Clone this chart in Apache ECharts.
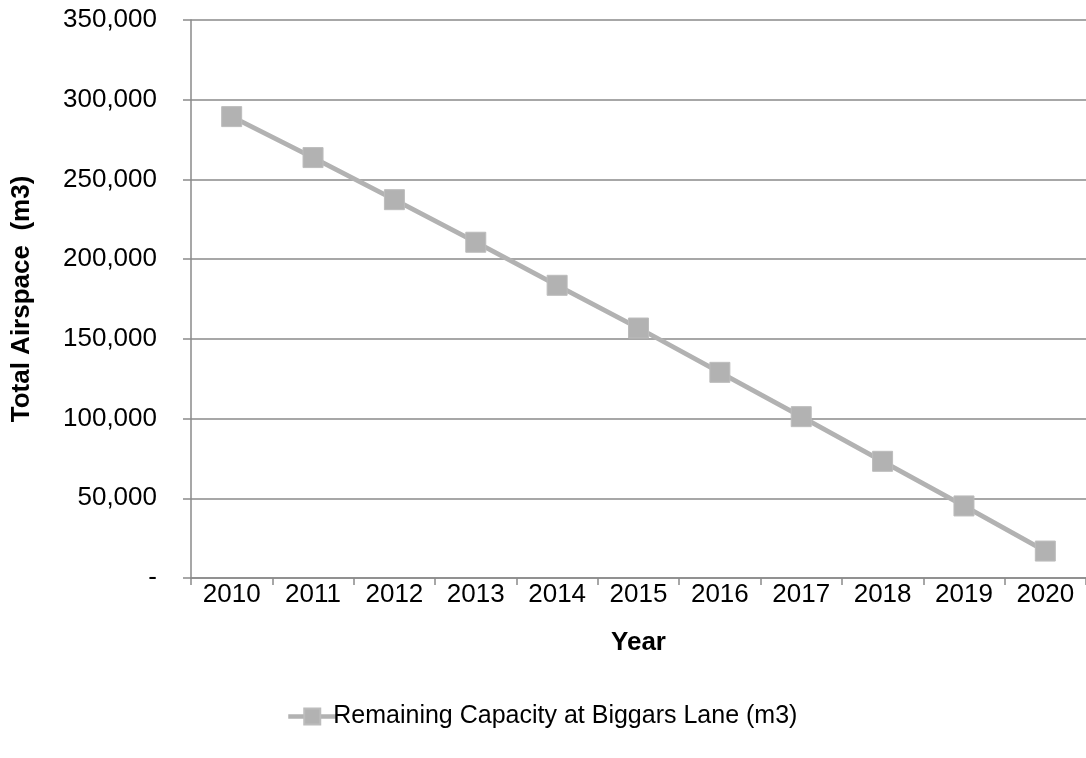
<!DOCTYPE html>
<html>
<head>
<meta charset="utf-8">
<title>Remaining Capacity at Biggars Lane</title>
<script src="https://cdn.jsdelivr.net/npm/echarts@6/dist/echarts.min.js"></script>
<style>
  html, body { margin: 0; padding: 0; background: #ffffff; }
  #chart { width: 1086px; height: 758px; }
</style>
</head>
<body>
<div id="chart"></div>
<script>
// Years on the category axis
const years = ['2010', '2011', '2012', '2013', '2014', '2015', '2016', '2017', '2018', '2019', '2020'];
// Remaining landfill airspace (m3) at the end of each year
const remainingCapacity = [289400, 263700, 237300, 210600, 183600, 156800, 129000, 101200, 73200, 45200, 16900];
// Value-axis settings
const yMin = 0;
const yMax = 350000;
const yStep = 50000;

const seriesName = 'Remaining Capacity at Biggars Lane (m3)';
const FONT = '"Liberation Sans", Arial, Helvetica, sans-serif';
const GRID_GREY = '#8a8a8a';
const LINE_GREY = '#b2b2b2';

function thousands(v) {
  if (v === 0) return '-';
  return String(v).replace(/\B(?=(\d{3})+(?!\d))/g, ',');
}

const chart = echarts.init(document.getElementById('chart'), null, { renderer: 'canvas' });

chart.setOption({
  animation: false,
  backgroundColor: '#ffffff',
  textStyle: { fontFamily: FONT, color: '#000000' },
  grid: { left: 191, top: 20, width: 903, height: 558, containLabel: false },
  legend: {
    data: [seriesName],
    left: 281,
    top: 699,
    itemWidth: 48,
    itemHeight: 20,
    itemGap: 10,
    lineStyle: { width: 4.5, color: LINE_GREY },
    textStyle: { fontFamily: FONT, fontSize: 25, color: '#000000', padding: [0, 0, 0, -8] }
  },
  xAxis: {
    type: 'category',
    data: years,
    boundaryGap: true,
    name: 'Year',
    nameLocation: 'middle',
    nameGap: 52,
    nameTextStyle: { fontFamily: FONT, fontSize: 26, fontWeight: 'bold', color: '#000000', verticalAlign: 'top' },
    axisLine: { show: true, lineStyle: { color: GRID_GREY, width: 1.5 } },
    axisTick: { show: true, alignWithLabel: false, length: 7, lineStyle: { color: GRID_GREY, width: 1.5 } },
    axisLabel: { fontFamily: FONT, fontSize: 26, color: '#000000', margin: 4 },
    splitLine: { show: false }
  },
  yAxis: {
    type: 'value',
    min: yMin,
    max: yMax,
    interval: yStep,
    name: 'Total Airspace  (m3)',
    nameLocation: 'middle',
    nameGap: 156,
    nameRotate: 90,
    nameTextStyle: { fontFamily: FONT, fontSize: 26, fontWeight: 'bold', color: '#000000' },
    axisLine: { show: true, lineStyle: { color: GRID_GREY, width: 1.5 } },
    axisTick: { show: true, inside: false, length: 8, lineStyle: { color: GRID_GREY, width: 1.5 } },
    axisLabel: { fontFamily: FONT, fontSize: 26, color: '#000000', margin: 34, formatter: thousands },
    splitLine: { show: true, lineStyle: { color: GRID_GREY, width: 1.5 } }
  },
  series: [{
    name: seriesName,
    type: 'line',
    data: remainingCapacity,
    symbol: 'rect',
    symbolSize: 20,
    showAllSymbol: true,
    lineStyle: { color: LINE_GREY, width: 4.8 },
    itemStyle: { color: LINE_GREY, borderColor: '#bcbcbc', borderWidth: 1 },
    emphasis: { disabled: true }
  }]
});
</script>
</body>
</html>
